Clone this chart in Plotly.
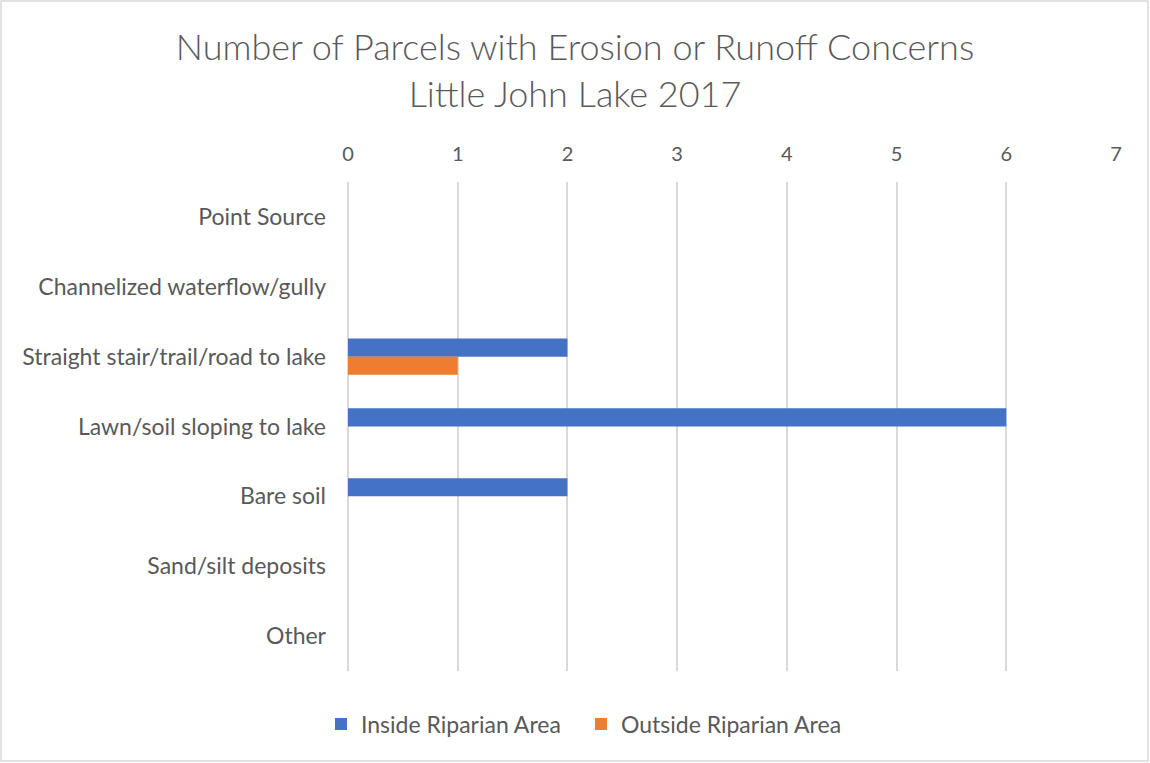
import plotly.graph_objects as go

categories = ["Point Source", "Channelized waterflow/gully", "Straight stair/trail/road to lake",
              "Lawn/soil sloping to lake", "Bare soil", "Sand/silt deposits", "Other"]
inside_values = [0, 0, 2, 6, 2, 0, 0]
outside_values = [0, 0, 1, 0, 0, 0, 0]
series_names = ["Inside Riparian Area", "Outside Riparian Area"]
x_ticks = [0, 1, 2, 3, 4, 5, 6, 7]

FONT = "Lato"
GREY = "#595959"
GRID = "#D9D9D9"

fig = go.Figure()
fig.add_trace(go.Bar(y=categories, x=inside_values, orientation="h", name=series_names[0],
                     marker=dict(color="#4472C4", line=dict(width=0))))
fig.add_trace(go.Bar(y=categories, x=outside_values, orientation="h", name=series_names[1],
                     marker=dict(color="#ED7D31", line=dict(width=0))))

W, H = 1150, 763
L, R, T, B = 348, 34, 182, 92
pw = W - L - R
ph = H - T - B


def px_x(p):
    return (p - L) / pw


def px_y(p):
    return (H - B - p) / ph


fig.update_layout(
    width=W, height=H,
    margin=dict(l=L, r=R, t=T, b=B),
    paper_bgcolor="white", plot_bgcolor="white",
    barmode="group", bargap=0.48, bargroupgap=0,
    title=dict(text="Number of Parcels with Erosion or Runoff Concerns<br>Little John Lake 2017",
               x=0.5, xanchor="center", y=1 - 60 / H, yanchor="middle",
               font=dict(family=FONT, size=36, color=GREY, weight=300)),
    font=dict(family=FONT, color=GREY),
    xaxis=dict(side="top", range=[0, 7], tickvals=x_ticks, showgrid=True, gridcolor=GRID,
               gridwidth=2, zeroline=True, zerolinecolor=GRID, zerolinewidth=2,
               showline=False, ticks="",
               tickfont=dict(family=FONT, size=20, color=GREY), ticklabelstandoff=16),
    yaxis=dict(autorange="reversed", showgrid=False, zeroline=False, showline=False, ticks="",
               tickfont=dict(family=FONT, size=23, color=GREY), ticklabelstandoff=21),
    legend=dict(orientation="h", x=px_x(321), xanchor="left",
                y=px_y(724), yanchor="middle",
                font=dict(family=FONT, size=23, color=GREY), itemwidth=30,
                entrywidth=215, entrywidthmode="pixels",
                traceorder="normal"),
    shapes=[dict(type="rect", xref="paper", yref="paper",
                 x0=px_x(1), x1=px_x(1148), y0=px_y(761), y1=px_y(1),
                 line=dict(color=GRID, width=1.5), fillcolor="rgba(0,0,0,0)", layer="below")],
)

fig.write_html("out.html", config={"displayModeBar": False},
               post_script="document.body.style.margin='0px';")
